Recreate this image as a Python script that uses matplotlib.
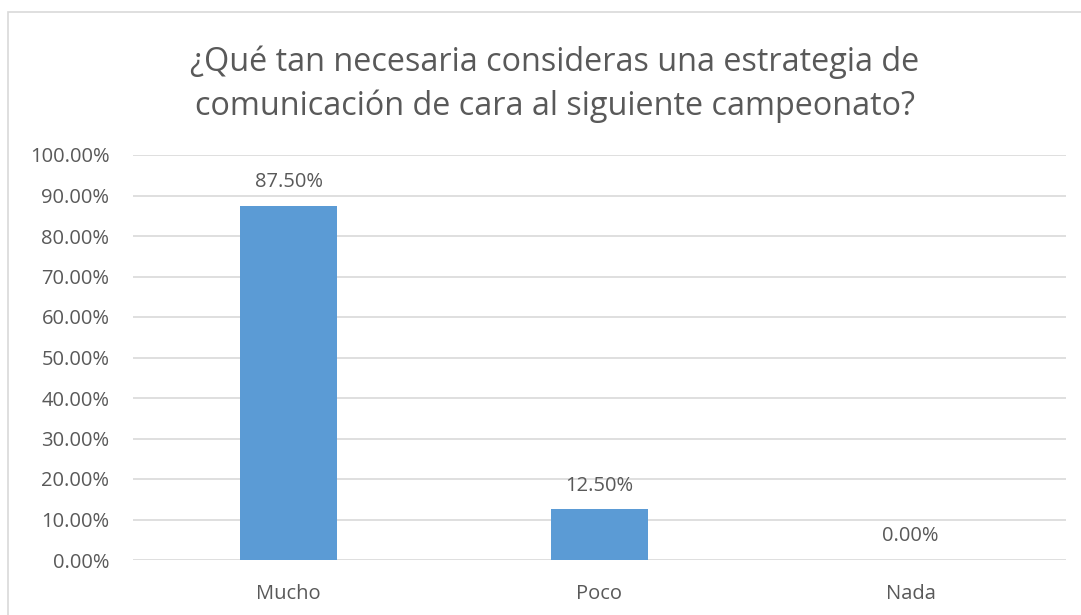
import matplotlib.pyplot as plt
from matplotlib.patches import Rectangle

categories = ["Mucho", "Poco", "Nada"]
values = [87.5, 12.5, 0.0]
yticks = [0, 10, 20, 30, 40, 50, 60, 70, 80, 90, 100]
title = "¿Qué tan necesaria consideras una estrategia de\ncomunicación de cara al siguiente campeonato?"

txt = "#595959"
plt.rcParams['font.family'] = ['Open Sans', 'DejaVu Sans']

fig = plt.figure(figsize=(10.81, 6.15), dpi=100)
# chart border (only top and left visible in the crop)
fig.add_artist(Rectangle((8 / 1081, -0.1), 1.2, (615 - 11.5) / 615 + 0.1,
                         transform=fig.transFigure, fill=False,
                         edgecolor="#d9d9d9", linewidth=1.2))

ax = fig.add_axes([133 / 1081, 1 - 560 / 615, 933 / 1081, 405 / 615])
x = range(len(categories))
ax.bar(x, values, width=0.315, color="#5b9bd5", zorder=3)
for i, v in zip(x, values):
    ax.annotate("{:.2f}%".format(v), (i, v), xytext=(0, 17), textcoords="offset points",
                ha="center", va="center", fontsize=14.5, color=txt)

ax.set_xlim(-0.5, 2.5)
ax.set_ylim(0, 100)
ax.set_yticks(yticks)
ax.set_yticklabels(["{:.2f}%".format(t) for t in yticks], fontsize=14.5, color=txt)
ax.set_xticks(list(x))
ax.set_xticklabels(categories, fontsize=14.5, color=txt)
ax.tick_params(length=0)
ax.tick_params(axis="y", pad=17)
ax.tick_params(axis="x", pad=17)
ax.grid(axis="y", color="#d9d9d9", linewidth=1.2, zorder=0)
for s in ax.spines.values():
    s.set_visible(False)

fig.text(555 / 1081, 1 - 84 / 615, title, ha="center", va="center", fontsize=23.3,
         color=txt, linespacing=1.4)

fig.savefig("out.png", dpi=100)
